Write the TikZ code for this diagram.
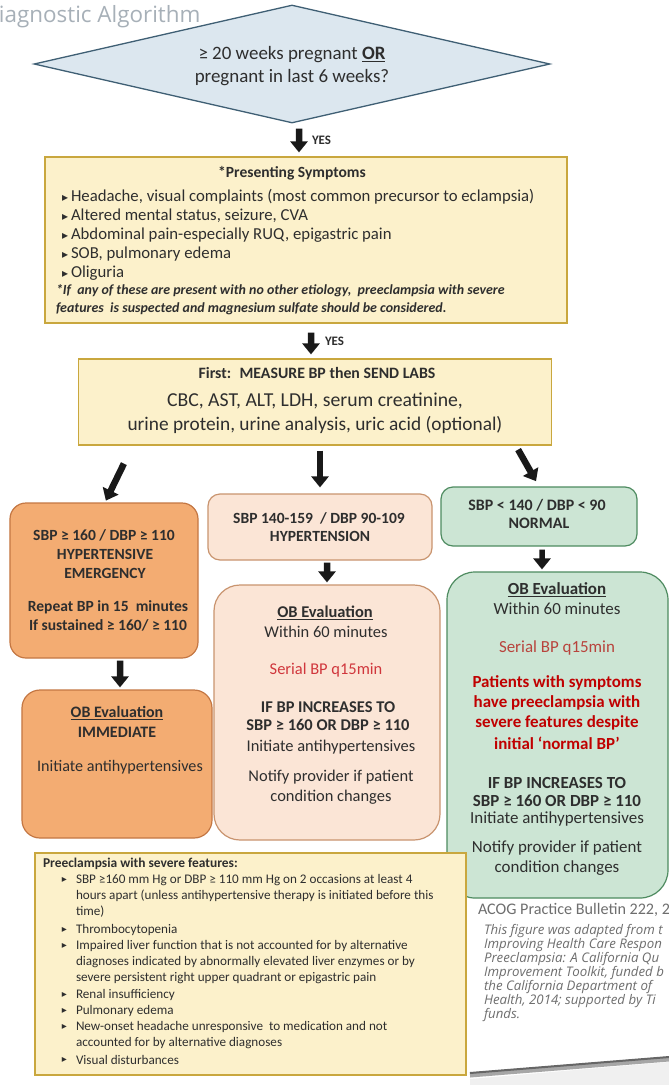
\documentclass[tikz,border=0pt]{standalone}
\usepackage{fontspec}
\setmainfont{Carlito}
\newfontfamily\osans{Open Sans}
\newfontfamily\djv{DejaVu Sans}
\usetikzlibrary{shapes.geometric,arrows.meta,calc}
\definecolor{txtc}{HTML}{2E2E2E}
\definecolor{diafill}{HTML}{DCE7EF}
\definecolor{diadraw}{HTML}{3F5F74}
\definecolor{yfill}{HTML}{FCF1CB}
\definecolor{ydraw}{HTML}{C9A73E}
\definecolor{ofill}{HTML}{F3AC72}
\definecolor{odraw}{HTML}{C47743}
\definecolor{pfill}{HTML}{FBE5D6}
\definecolor{pdraw}{HTML}{C9946F}
\definecolor{gfill}{HTML}{CCE5D4}
\definecolor{gdraw}{HTML}{4E8B60}
\definecolor{redA}{HTML}{D0363C}
\definecolor{redB}{HTML}{B8433C}
\definecolor{redC}{HTML}{C00000}
\definecolor{titlegray}{HTML}{A7B0B8}
\definecolor{notegray}{HTML}{6E6E6E}
\newcommand\fsz[1]{\fontsize{#1}{#1}\selectfont}
\newcommand\bul{{\djv\fsz{12}▸}\hspace{3bp}}
\begin{document}
\begin{tikzpicture}[x=1bp,y=-1bp,
  txt/.style={inner sep=0pt,outer sep=0pt,text=txtc},
  diabox/.style={diamond,draw=diadraw,fill=diafill,line width=1.3bp,inner sep=0pt},
  ybox/.style={rectangle,draw=ydraw,fill=yfill,line width=1.2bp,inner sep=0pt},
  obox/.style={rectangle,rounded corners=16bp,draw=odraw,fill=ofill,line width=1.2bp,inner sep=0pt},
  pbox/.style={rectangle,rounded corners=16bp,draw=pdraw,fill=pfill,line width=1.2bp,inner sep=0pt},
  gbox/.style={rectangle,rounded corners=16bp,draw=gdraw,fill=gfill,line width=1.2bp,inner sep=0pt},
  fat/.style={draw=black!90,line width=6.5bp,-{Triangle[length=11bp,width=17bp]}},
  yes/.style={txt,font=\bfseries\fsz{13},anchor=west}
]
\useasboundingbox (0,0) rectangle (669,1085);
\fill[white] (0,0) rectangle (669,1085);

% title
\node[txt,text=titlegray,font=\osans\fsz{22.5},anchor=west] (title) at (-1,17) {iagnostic Algorithm};

% diamond
\node[diabox,minimum width=516bp,minimum height=118bp] (dia) at (292,64) {};
\node[txt,font=\fontsize{19}{23}\selectfont,align=center] (diat) at (292,66)
  {≥ 20 weeks pregnant \textbf{\underline{OR}}\\pregnant in last 6 weeks?};

% presenting symptoms
\node[ybox,minimum width=522bp,minimum height=166bp] (sym) at (306,240) {};
\node[txt,font=\bfseries\fsz{15.6}] (symt) at (292,173) {*Presenting Symptoms};
\foreach \n/\yy/\tt in {1/197/{Headache, visual complaints (most common precursor to eclampsia)},
  2/216/{Altered mental status, seizure, CVA},
  3/235/{Abdominal pain-especially RUQ, epigastric pain},
  4/254/{SOB, pulmonary edema},
  5/273/{Oliguria}}
  \node[txt,anchor=west,font=\fsz{16.8}] (sb\n) at (62,\yy) {\bul\tt};
\node[txt,anchor=west,font=\bfseries\itshape\fsz{14}] (sf1) at (56,291)
  {*If~ any of these are present with no other etiology,~ preeclampsia with severe};
\node[txt,anchor=west,font=\bfseries\itshape\fsz{14}] (sf2) at (56,309)
  {features~ is suspected and magnesium sulfate should be considered.};

% labs
\node[ybox,minimum width=473bp,minimum height=86bp] (labs) at (315,402) {};
\node[txt,font=\bfseries\fsz{15.9}] (labt) at (317,373) {First:~ MEASURE BP then SEND LABS};
\node[txt,font=\fsz{19.8}] (lab1) at (315,401) {CBC, AST, ALT, LDH, serum creatinine,};
\node[txt,font=\fsz{19.4}] (lab2) at (315,425) {urine protein, urine analysis, uric acid (optional)};

% hypertensive emergency
\node[obox,minimum width=188bp,minimum height=155bp] (emerg) at (104,580.5) {};
\node[txt,font=\bfseries\fsz{15.6}] (e1) at (104,535) {SBP ≥ 160 / DBP ≥ 110};
\node[txt,font=\bfseries\fsz{15.6}] (e2) at (105,554) {HYPERTENSIVE};
\node[txt,font=\bfseries\fsz{15.6}] (e3) at (105,573) {EMERGENCY};
\node[txt,font=\bfseries\fsz{15.6}] (e4) at (108,607) {Repeat BP in 15~ minutes};
\node[txt,font=\bfseries\fsz{15.6}] (e5) at (108,625) {If sustained ≥ 160/ ≥ 110};

\node[obox,rounded corners=18bp,minimum width=190bp,minimum height=148bp] (imm) at (117,764) {};
\node[txt,font=\bfseries\fsz{16}] (i1) at (117,713) {\underline{OB Evaluation}};
\node[txt,font=\bfseries\fsz{16}] (i2) at (117,732) {IMMEDIATE};
\node[txt,font=\fsz{16.2}] (i3) at (120,767) {Initiate antihypertensives};

% hypertension
\node[pbox,rounded corners=12bp,minimum width=224bp,minimum height=66bp] (hyp) at (320,527) {};
\node[txt,font=\bfseries\fsz{15.6}] (h1) at (319,518) {SBP 140-159~ / DBP 90-109};
\node[txt,font=\bfseries\fsz{15.6}] (h2) at (320,536) {HYPERTENSION};

\node[pbox,rounded corners=26bp,minimum width=226bp,minimum height=255bp] (hypob) at (327,712.5) {};
\node[txt,font=\bfseries\fsz{16.5}] (p1) at (325,613) {\underline{OB Evaluation}};
\node[txt,font=\fsz{16.5}] (p2) at (326,632) {Within 60 minutes};
\node[txt,text=redA,font=\fsz{16.5}] (p3) at (326,670) {Serial BP q15min};
\node[txt,font=\bfseries\fsz{16.5}] (p4) at (328,707) {IF BP INCREASES TO};
\node[txt,font=\bfseries\fsz{16.5}] (p5) at (328,725) {SBP ≥ 160 OR DBP ≥ 110};
\node[txt,font=\fsz{16.5}] (p6) at (331,747) {Initiate antihypertensives};
\node[txt,font=\fsz{16.5}] (p7) at (331,777) {Notify provider if patient};
\node[txt,font=\fsz{16.5}] (p8) at (331,797) {condition changes};

% normal
\node[gbox,rounded corners=12bp,minimum width=196bp,minimum height=59bp] (norm) at (539,516.5) {};
\node[txt,font=\bfseries\fsz{16}] (n1) at (537,505) {SBP < 140 / DBP < 90};
\node[txt,font=\bfseries\fsz{16}] (n2) at (539,523) {NORMAL};

\node[gbox,rounded corners=28bp,minimum width=221bp,minimum height=326bp] (normob) at (557.5,735) {};
\node[txt,font=\bfseries\fsz{17}] (g1) at (557,590) {\underline{OB Evaluation}};
\node[txt,font=\fsz{17}] (g2) at (557,609) {Within 60 minutes};
\node[txt,text=redB,font=\fsz{17}] (g3) at (557,648) {Serial BP q15min};
\node[txt,text=redC,font=\bfseries\fsz{17}] (g4) at (557,683) {Patients with symptoms};
\node[txt,text=redC,font=\bfseries\fsz{17}] (g5) at (557,703) {have preeclampsia with};
\node[txt,text=redC,font=\bfseries\fsz{17}] (g6) at (557,723) {severe features despite};
\node[txt,text=redC,font=\bfseries\fsz{17}] (g7) at (557,743) {initial ‘normal BP’};
\node[txt,font=\bfseries\fsz{17}] (g8) at (557,783) {IF BP INCREASES TO};
\node[txt,font=\bfseries\fsz{17}] (g9) at (557,801) {SBP ≥ 160 OR DBP ≥ 110};
\node[txt,font=\fsz{17}] (g10) at (557,819) {Initiate antihypertensives};
\node[txt,font=\fsz{17}] (g11) at (557,848) {Notify provider if patient};
\node[txt,font=\fsz{17}] (g12) at (557,868) {condition changes};

% severe features
\node[ybox,minimum width=431bp,minimum height=222bp] (sev) at (250.5,964) {};
\node[txt,anchor=west,font=\bfseries\fsz{13.5}] (v0) at (43,864) {Preeclampsia with severe features:};
\foreach \n/\yy/\bb/\tt in {
  1/880/1/{SBP ≥160 mm Hg or DBP ≥ 110 mm Hg on 2 occasions at least 4},
  2/896/0/{hours apart (unless antihypertensive therapy is initiated before this},
  3/912/0/{time)},
  4/930/1/{Thrombocytopenia},
  5/946/1/{Impaired liver function that is not accounted for by alternative},
  6/962/0/{diagnoses indicated by abnormally elevated liver enzymes or by},
  7/978/0/{severe persistent right upper quadrant or epigastric pain},
  8/995/1/{Renal insufficiency},
  9/1011/1/{Pulmonary edema},
  10/1027/1/{New-onset headache unresponsive~ to medication and not},
  11/1043/0/{accounted for by alternative diagnoses},
  12/1060/1/{Visual disturbances}}
{
  \node[txt,anchor=west,font=\fsz{13.2}] (v\n) at (76,\yy) {\tt};
  \ifnum\bb=1 \node[txt,anchor=east,font=\djv\fsz{10}] (vb\n) at (67,\yy) {▸};\fi
}

% reference note
\node[txt,text=notegray,anchor=west,font=\fsz{16.2}] (acog) at (478,910) {ACOG Practice Bulletin 222, 2};
\foreach \n/\yy/\tt in {1/931/{This figure was adapted from t},
  2/945/{Improving Health Care Respon},
  3/959/{Preeclampsia: A California Qu},
  4/973/{Improvement Toolkit, funded b},
  5/987/{the California Department of},
  6/1001/{Health, 2014; supported by Ti},
  7/1015/{funds.}}
  \node[txt,text=notegray,anchor=west,font=\osans\itshape\fsz{13.3}] (r\n) at (484,\yy) {\tt};

% page edge shadow
\fill[black!6] (470,1079) -- (669,1062) -- (669,1085) -- (470,1085) -- cycle;
\draw[line width=5bp,black!35] (470,1075) -- (669,1059);
\draw[line width=2bp,black!60] (470,1073) -- (669,1057);

% connectors
\draw[fat,shorten <=5bp,shorten >=4bp] ([xshift=7bp]dia.south) -- ([xshift=-7bp]sym.north);
\node[yes] (yes1) at (312,140) {YES};
\draw[fat,shorten <=9bp,shorten >=4bp] ([xshift=5bp]sym.south) -- ([xshift=-4bp]labs.north);
\node[yes] (yes2) at (325,341) {YES};
\draw[fat,shorten >=2bp] ([xshift=46bp,yshift=-18bp]labs.south west) -- ([xshift=1bp]emerg.north);
\draw[fat,shorten <=5bp,shorten >=6bp] (labs.south -| hyp.north) -- (hyp.north);
\draw[fat,shorten >=6bp] ([xshift=-34bp,yshift=-4bp]labs.south east) -- (norm.north);
\draw[fat,shorten <=2bp,shorten >=2bp] ([xshift=16bp]emerg.south) -- ([xshift=3bp]imm.north);
\draw[fat,shorten <=2bp,shorten >=2bp] ([xshift=7bp]hyp.south) -- (hypob.north);
\draw[fat,line width=5.5bp,shorten <=3bp,shorten >=2bp] ([xshift=3bp]norm.south) -- ([xshift=-15.5bp]normob.north);
\end{tikzpicture}
\end{document}
